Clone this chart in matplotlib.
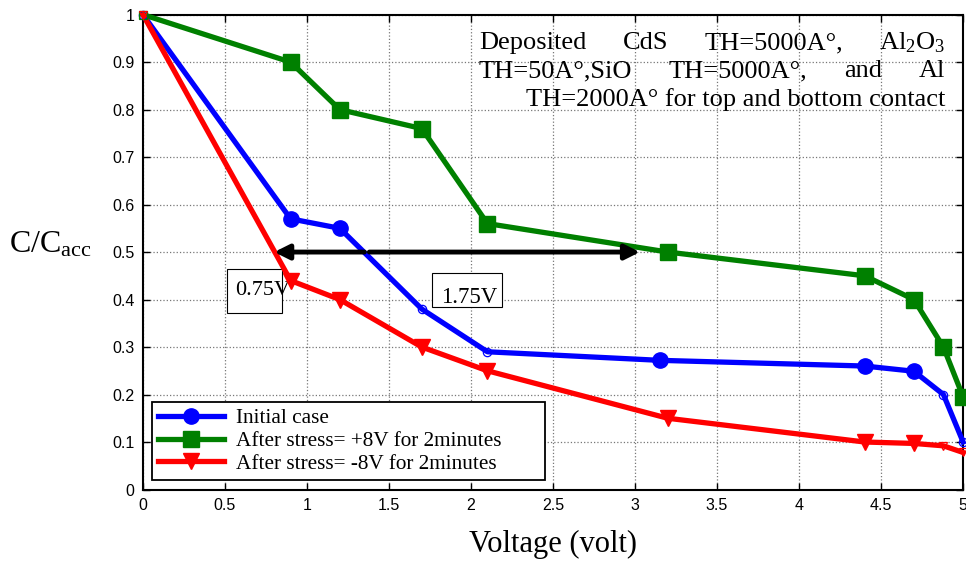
import numpy as np
import matplotlib
matplotlib.use("Agg")
from matplotlib import pyplot as plt
from matplotlib.patches import Rectangle

SERIF = "Liberation Serif"
SANS = "Liberation Sans"
plt.rcParams.update({"font.family": SANS, "mathtext.fontset": "custom",
                     "mathtext.rm": SERIF, "mathtext.it": SERIF + ":italic"})

# ---- data ----------------------------------------------------------------
volt_init = [0.0, 0.9, 1.2, 1.7, 2.1, 3.15, 4.4, 4.7, 4.88, 5.0]
c_init = [1.0, 0.57, 0.55, 0.38, 0.29, 0.272, 0.26, 0.249, 0.20, 0.10]
big_init = [1, 2, 5, 6, 7]          # points drawn with the big filled marker

volt_pos = [0.0, 0.9, 1.2, 1.7, 2.1, 3.2, 4.4, 4.7, 4.88, 5.0]
c_pos = [1.0, 0.90, 0.80, 0.76, 0.56, 0.50, 0.45, 0.40, 0.30, 0.195]
big_pos = [1, 2, 3, 4, 5, 6, 7, 8, 9]

volt_neg = [0.0, 0.9, 1.2, 1.7, 2.1, 3.2, 4.4, 4.7, 4.88, 5.0]
c_neg = [1.0, 0.44, 0.40, 0.30, 0.25, 0.15, 0.10, 0.097, 0.092, 0.078]
big_neg = [1, 2, 3, 4, 5, 6, 7]

series = [
    ("Initial case", volt_init, c_init, big_init, "blue", "o"),
    ("After stress= +8V for 2minutes", volt_pos, c_pos, big_pos, "green", "s"),
    ("After stress= -8V for 2minutes", volt_neg, c_neg, big_neg, "red", "v"),
]

shift_left = (1.35, 0.80)     # arrow from/to on the 0.5 level
shift_right = (1.38, 3.03)
shift_level = 0.5

# ---- figure ----------------------------------------------------------------
fig = plt.figure(figsize=(9.66, 5.62), dpi=100)
ax = fig.add_axes([0.148, 0.129, 0.849, 0.845])

for label, xs, ys, big, col, mk in series:
    xs, ys = np.asarray(xs), np.asarray(ys)
    small = [i for i in range(len(xs)) if i not in big]
    ax.plot(xs, ys, color=col, lw=3.8, marker=mk, ms=11, mfc=col, mec=col,
            markevery=big, label=label, zorder=3, clip_on=False)
    ax.plot(xs[small], ys[small], ls="none", marker=mk, ms=6, mfc="none",
            mec=col, mew=0.9, zorder=4, clip_on=False)

# voltage-shift arrows
ax.annotate("", xy=(shift_left[1], shift_level), xytext=(shift_left[0], shift_level),
            arrowprops=dict(arrowstyle="-|>", color="black", lw=3.5,
                            mutation_scale=22, shrinkA=0, shrinkB=0), zorder=5)
ax.annotate("", xy=(shift_right[1], shift_level), xytext=(shift_right[0], shift_level),
            arrowprops=dict(arrowstyle="-|>", color="black", lw=3.5,
                            mutation_scale=22, shrinkA=0, shrinkB=0), zorder=5)

# label boxes (white, drawn over the grid, under the curves)
ax.add_patch(Rectangle((0.512, 0.372), 0.336, 0.092, fc="white", ec="black",
                       lw=0.8, zorder=1.5))
ax.text(0.56, 0.418, "0.75V", family=SERIF, fontsize=16, va="center",
        ha="left", zorder=2)
ax.add_patch(Rectangle((1.762, 0.384), 0.427, 0.072, fc="white", ec="black",
                       lw=0.8, zorder=1.5))
ax.text(1.82, 0.405, "1.75V", family=SERIF, fontsize=16.5, va="center",
        ha="left", zorder=2)

ax.set_xlim(0, 5)
ax.set_ylim(0, 1)
ax.set_xticks(np.arange(0, 5.01, 0.5))
ax.set_xticklabels(["0", "0.5", "1", "1.5", "2", "2.5", "3", "3.5", "4", "4.5", "5"])
ax.set_yticks(np.arange(0, 1.01, 0.1))
ax.set_yticklabels(["0", "0.1", "0.2", "0.3", "0.4", "0.5", "0.6", "0.7", "0.8",
                    "0.9", "1"])
ax.tick_params(direction="in", top=True, right=True, length=5, width=1,
               labelsize=11.5, pad=6)
ax.grid(True, ls=":", color="#777777", lw=0.9)
ax.set_axisbelow(True)
for sp in ax.spines.values():
    sp.set_linewidth(1.5)

ax.set_xlabel("Voltage (volt)", family=SERIF, fontsize=22, labelpad=12)
fig.text(0.052, 0.565, "C/C$_{\\mathrm{acc}}$", family=SERIF, fontsize=23,
         ha="center", va="center")

# legend stretched to the wider box of the original
leg = ax.legend(loc="lower left", bbox_to_anchor=(0.011, 0.02, 0.479, 0.17),
                mode="expand", borderaxespad=0,
                prop={"family": SERIF, "size": 15.3}, numpoints=1, handlelength=3.1,
                labelspacing=0.13, fancybox=False, framealpha=1, edgecolor="black",
                borderpad=0.3, handletextpad=0.55)
leg.get_frame().set_linewidth(1.3)
leg.set_zorder(6)

# justified note in the top-right corner (words spread from left to right edge)
note_lines = [
    ["Deposited", "CdS", "TH=5000A°,", "Al$_2$O$_3$"],
    ["TH=50A°,SiO", "TH=5000A°,", "and", "Al"],
]
note_last = "TH=2000A° for top and bottom contact"
left_px, right_px = 479, 945
line_y = [43, 71, 100]
renderer = fig.canvas.get_renderer()
for words, ypx in zip(note_lines, line_y):
    texts = [fig.text(0, 1 - ypx / 562, w, family=SERIF, fontsize=19, va="center")
             for w in words]
    widths = [t.get_window_extent(renderer).width for t in texts]
    gap = (right_px - left_px - sum(widths)) / (len(words) - 1)
    x = left_px
    for t, w in zip(texts, widths):
        t.set_x(x / 966)
        x += w + gap
fig.text(right_px / 966, 1 - line_y[2] / 562, note_last, family=SERIF, fontsize=19,
         va="center", ha="right")

fig.savefig("out.png", dpi=100)
